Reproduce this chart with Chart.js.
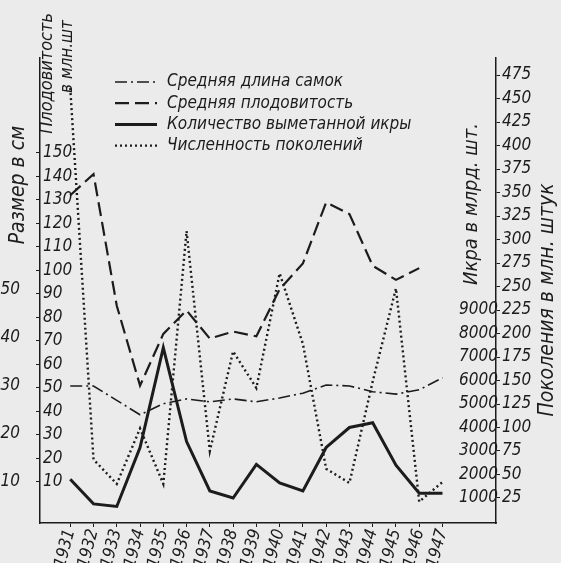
<!DOCTYPE html>
<html>
<head>
<meta charset="utf-8">
<script src="https://cdn.jsdelivr.net/npm/chart.js@4.4.1/dist/chart.umd.min.js"></script>
<style>
  html, body { margin: 0; padding: 0; background: #ebebeb; }
</style>
</head>
<body>
<canvas id="myChart" width="561" height="563"></canvas>
<script>
let years = [1931, 1932, 1933, 1934, 1935, 1936, 1937, 1938, 1939, 1940, 1941, 1942, 1943, 1944, 1945, 1946, 1947];
let sizeCm = [30, 30, 27, 24, 26.3, 27.3, 26.7, 27.3, 26.7, 27.5, 28.5, 30.2, 30, 28.8, 28.3, 29.2, 31.7];
let fecundity = [132, 141, 85, 51, 73, 83, 71, 74, 72, 92, 103, 129, 124, 102, 96, 101, null];
let eggs = [1800, 750, 640, 3150, 7400, 3400, 1300, 1000, 2430, 1640, 1300, 3150, 4000, 4200, 2400, 1200, 1200];
let generations = [461, 66, 40, 99, 40, 309, 75, 181, 142, 264, 189, 56, 41, 149, 248, 21, 42];
let labels = ['Средняя длина самок', 'Средняя плодовитость', 'Количество выметанной икры', 'Численность поколений'];

let cmTicks = [10, 20, 30, 40, 50];
let fecTicks = [10, 20, 30, 40, 50, 60, 70, 80, 90, 100, 110, 120, 130, 140, 150];
let eggTicks = [1000, 2000, 3000, 4000, 5000, 6000, 7000, 8000, 9000];
let genTicks = [25, 50, 75, 100, 125, 150, 175, 200, 225, 250, 275, 300, 325, 350, 375, 400, 425, 450, 475];

let ink = '#1c1c1c';
let hand = "'Liberation Sans Narrow', 'DejaVu Sans Condensed', sans-serif";
let tickFont = { family: hand, size: 17, style: 'italic' };

function pts(vals) {
  return years.map((yr, i) => ({ x: yr, y: vals[i] }));
}
function setTicks(list) {
  return (scale) => { scale.ticks = list.map(v => ({ value: v })); };
}
function setWidth(w) {
  return (scale) => { scale.width = w; };
}

// paper background
const paper = {
  id: 'paper',
  beforeDraw(chart) {
    const c = chart.ctx;
    c.save();
    c.fillStyle = '#ebebeb';
    c.fillRect(0, 0, chart.width, chart.height);
    c.restore();
  }
};

// legend in the upper part of the plot, drawn like the original
const handLegend = {
  id: 'handLegend',
  afterDraw(chart) {
    const c = chart.ctx;
    c.save();
    c.font = 'italic 17px ' + hand;
    c.fillStyle = ink;
    c.textBaseline = 'middle';
    chart.data.datasets.forEach((ds, i) => {
      const y = 82 + i * 21.2;
      c.strokeStyle = ink;
      c.lineWidth = ds.borderWidth;
      c.setLineDash(ds.borderDash || []);
      c.beginPath();
      c.moveTo(115, y);
      c.lineTo(157, y);
      c.stroke();
      c.fillText(ds.label, 167, y);
    });
    c.restore();
  }
};

// rotated axis captions
const captions = {
  id: 'captions',
  afterDraw(chart) {
    const c = chart.ctx;
    const put = (text, x, y, align, size) => {
      c.save();
      c.translate(x, y);
      c.rotate(-Math.PI / 2);
      c.font = 'italic ' + size + 'px ' + hand;
      c.fillStyle = ink;
      c.textAlign = align;
      c.textBaseline = 'middle';
      c.fillText(text, 0, 0);
      c.restore();
    };
    put('Размер в см', 19, 185, 'center', 21);
    put('Плодовитость', 47, 13, 'right', 18);
    put('в млн.шт', 68, 20, 'right', 17);
    put('Икра в млрд. шт.', 472, 204, 'center', 20);
    put('Поколения в млн. штук', 548, 300, 'center', 21);
  }
};

let ctx = document.getElementById('myChart').getContext('2d');

let myChart = new Chart(ctx, {
  type: 'line',
  data: {
    datasets: [{
      label: labels[0],
      data: pts(sizeCm),
      yAxisID: 'yCm',
      borderColor: ink,
      borderWidth: 1.6,
      borderDash: [12, 4, 2, 4]
    }, {
      label: labels[1],
      data: pts(fecundity),
      yAxisID: 'yFec',
      borderColor: ink,
      borderWidth: 2.2,
      borderDash: [14, 6]
    }, {
      label: labels[2],
      data: pts(eggs),
      yAxisID: 'yEgg',
      borderColor: ink,
      borderWidth: 3
    }, {
      label: labels[3],
      data: pts(generations),
      yAxisID: 'yGen',
      borderColor: ink,
      borderWidth: 2.4,
      borderDash: [2, 3]
    }]
  },
  options: {
    responsive: false,
    animation: false,
    layout: { padding: { top: 58, left: 0, right: 0, bottom: 0 } },
    elements: { point: { radius: 0 }, line: { tension: 0, fill: false } },
    plugins: {
      legend: { display: false },
      tooltip: { enabled: false }
    },
    scales: {
      x: {
        type: 'linear',
        min: 1929.7,
        max: 1949.3,
        afterBuildTicks: setTicks(years),
        afterFit: (s) => { s.height = 40; },
        grid: { drawOnChartArea: false, tickLength: 4, color: ink },
        border: { display: true, color: ink, width: 1.5 },
        ticks: {
          color: ink,
          font: tickFont,
          minRotation: 75,
          maxRotation: 75,
          autoSkip: false,
          padding: 0,
          callback: (v) => String(v)
        }
      },
      yCm: {
        position: 'left',
        weight: 2,
        min: 1.46,
        max: 98.3,
        afterBuildTicks: setTicks(cmTicks),
        afterFit: setWidth(40),
        grid: { display: false },
        border: { display: false },
        ticks: { color: ink, font: tickFont, padding: 12, callback: (v) => String(v) }
      },
      yFec: {
        position: 'left',
        weight: 1,
        min: -7.45,
        max: 190.4,
        afterBuildTicks: setTicks(fecTicks),
        afterFit: setWidth(0),
        grid: { drawOnChartArea: false, tickLength: 4, color: ink },
        border: { display: true, color: ink, width: 1.5 },
        ticks: { color: ink, font: tickFont, mirror: true, padding: 3, callback: (v) => String(v) }
      },
      yEgg: {
        position: 'right',
        weight: 1,
        min: -64,
        max: 19724,
        afterBuildTicks: setTicks(eggTicks),
        afterFit: setWidth(0),
        grid: { display: false },
        border: { display: false },
        ticks: { color: ink, font: tickFont, mirror: true, padding: 2, callback: (v) => String(v) }
      },
      yGen: {
        position: 'right',
        weight: 2,
        min: -1.6,
        max: 493.1,
        afterBuildTicks: setTicks(genTicks),
        afterFit: setWidth(65),
        grid: { drawOnChartArea: false, tickLength: 4, color: ink },
        border: { display: true, color: ink, width: 1.5 },
        ticks: { color: ink, font: tickFont, padding: 2, callback: (v) => String(v) }
      }
    }
  },
  plugins: [paper, handLegend, captions]
});
</script>
</body>
</html>
